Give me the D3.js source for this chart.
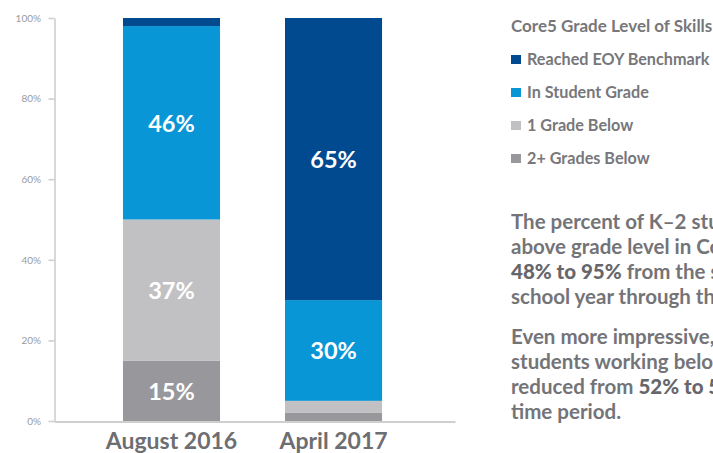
<!DOCTYPE html>
<html>
<head>
<meta charset="utf-8">
<script src="https://cdn.jsdelivr.net/npm/d3@7"></script>
<style>
  html, body { margin: 0; padding: 0; background: #fff; overflow: hidden; }
  svg { display: block; }
  text { font-family: Lato, "Open Sans", sans-serif; }
</style>
</head>
<body>
<svg id="chart" width="713" height="453"></svg>
<script>
// ---- data ----
const categories = ["August 2016", "April 2017"];
const seriesNames = ["2+ Grades Below", "1 Grade Below", "In Student Grade", "Reached EOY Benchmark"];
const below2Values   = [15, 2];
const below1Values   = [35, 3];
const inGradeValues  = [48, 25];
const reachedValues  = [2, 70];
const below2Labels   = ["15%", ""];
const below1Labels   = ["37%", ""];
const inGradeLabels  = ["46%", "30%"];
const reachedLabels  = ["", "65%"];
const seriesColors   = ["#98979b", "#c1c1c3", "#0896d7", "#024a90"];
const yTicks = [0, 20, 40, 60, 80, 100];
const legendTitle = "Core5 Grade Level of Skills";
const legendOrder = ["Reached EOY Benchmark", "In Student Grade", "1 Grade Below", "2+ Grades Below"];
const paragraph1 = [
  [["The percent of K\u20132 students", false]],
  [["above grade level in Core5", false]],
  [["48% to 95%", true], [" from the start", false]],
  [["school year through the", false]]
];
const paragraph2 = [
  [["Even more impressive,", false]],
  [["students working below", false]],
  [["reduced from ", false], ["52% to 5%", true]],
  [["time period.", false]]
];

// ---- build table ----
const seriesValues = [below2Values, below1Values, inGradeValues, reachedValues];
const seriesLabels = [below2Labels, below1Labels, inGradeLabels, reachedLabels];
const table = categories.map((c, i) => {
  const row = { cat: c };
  seriesNames.forEach((s, j) => row[s] = seriesValues[j][i]);
  return row;
});
const stacked = d3.stack().keys(seriesNames)(table);

const svg = d3.select("#chart");
const x = d3.scaleBand().domain(categories).range([54, 455])
  .paddingInner(0.401).paddingOuter(0.438).align(0.486);
const y = d3.scaleLinear().domain([0, 100]).range([421, 18]);
const color = d3.scaleOrdinal().domain(seriesNames).range(seriesColors);

// bars
const layers = svg.append("g").selectAll("g").data(stacked).join("g")
  .attr("fill", d => color(d.key));
layers.selectAll("rect").data(d => d).join("rect")
  .attr("x", d => x(d.data.cat))
  .attr("width", x.bandwidth())
  .attr("y", d => y(d[1]))
  .attr("height", d => y(d[0]) - y(d[1]));

// bar labels
stacked.forEach((layer, j) => {
  svg.append("g").selectAll("text").data(layer).join("text")
    .attr("x", d => x(d.data.cat) + x.bandwidth() / 2)
    .attr("y", d => (y(d[0]) + y(d[1])) / 2)
    .attr("text-anchor", "middle")
    .attr("dominant-baseline", "central")
    .attr("fill", "#fff")
    .attr("font-size", 23.5)
    .attr("font-weight", 700)
    .text((d, i) => seriesLabels[j][i]);
});

// y axis
const yAxis = svg.append("g").attr("transform", "translate(54.5,0)")
  .call(d3.axisLeft(y).tickValues(yTicks).tickFormat(d => d + "%")
    .tickSizeInner(6).tickSizeOuter(0).tickPadding(7.5));
yAxis.selectAll("path, line").attr("stroke", "#cfcfcf").attr("stroke-width", 1.6);
yAxis.selectAll("text").attr("fill", "#9a9a9e").attr("font-size", 10)
  .attr("font-family", "Lato, sans-serif");

// x axis
const xAxis = svg.append("g").attr("transform", "translate(0,421.5)")
  .call(d3.axisBottom(x).tickSize(0).tickPadding(11));
xAxis.select(".domain").attr("stroke", "#cfcfcf").attr("stroke-width", 2);
xAxis.selectAll("text").attr("fill", "#6d6e71").attr("font-size", 23)
  .attr("font-weight", 700).attr("font-family", "Lato, sans-serif");

// legend
const lg = svg.append("g").attr("transform", "translate(511,0)");
lg.append("text").attr("x", 0).attr("y", 31.5).attr("fill", "#77777b")
  .attr("font-size", 17).attr("font-weight", 700).text(legendTitle);
const items = lg.selectAll("g.item").data(legendOrder).join("g")
  .attr("class", "item")
  .attr("transform", (d, i) => `translate(0,${65 + i * 33})`);
items.append("rect").attr("x", 0).attr("y", -10).attr("width", 10).attr("height", 9)
  .attr("fill", d => color(d));
items.append("text").attr("x", 16).attr("y", 0).attr("fill", "#77777b")
  .attr("font-size", 16.2).attr("font-weight", 700).text(d => d);

// paragraphs
function drawPara(lines, y0) {
  lines.forEach((line, i) => {
    const t = svg.append("text").attr("x", 511).attr("y", y0 + i * 25)
      .attr("font-size", 20.5).attr("font-weight", 700).attr("fill", "#747478");
    line.forEach(([s, strong]) => {
      t.append("tspan").attr("fill", strong ? "#67676b" : "#747478")
        .attr("font-weight", strong ? 900 : 700).text(s);
    });
  });
}
drawPara(paragraph1, 229);
drawPara(paragraph2, 344);
</script>
</body>
</html>
